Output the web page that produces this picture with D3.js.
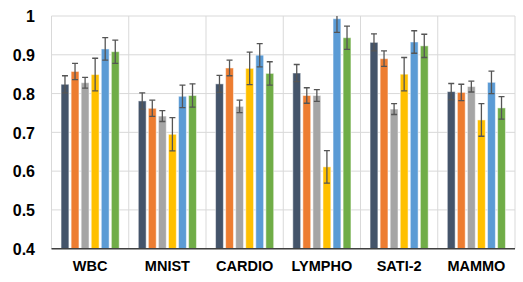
<!DOCTYPE html>
<html><head><meta charset="utf-8">
<script src="https://cdn.jsdelivr.net/npm/d3@7"></script>
<style>body{margin:0;background:#fff}svg{display:block}</style>
</head><body>
<svg id="c" width="523" height="282"></svg>
<script>
const categories = ["WBC","MNIST","CARDIO","LYMPHO","SATI-2","MAMMO"];
const seriesNames = ["S1","S2","S3","S4","S5","S6"];
const colors = ["#44546A","#ED7D31","#A5A5A5","#FFC000","#5B9BD5","#70AD47"];
const values = [
  [0.824,0.857,0.828,0.849,0.915,0.908],
  [0.781,0.762,0.742,0.695,0.793,0.795],
  [0.825,0.866,0.767,0.865,0.899,0.852],
  [0.853,0.795,0.795,0.611,0.993,0.944],
  [0.932,0.890,0.760,0.850,0.933,0.923],
  [0.805,0.803,0.818,0.732,0.829,0.763]
];
const errors = [
  [0.022,0.021,0.014,0.042,0.029,0.030],
  [0.021,0.021,0.014,0.043,0.029,0.030],
  [0.022,0.020,0.016,0.042,0.030,0.030],
  [0.022,0.020,0.015,0.042,0.035,0.030],
  [0.022,0.020,0.014,0.043,0.029,0.030],
  [0.021,0.021,0.014,0.042,0.029,0.029]
];
const yTicks = [0.4,0.5,0.6,0.7,0.8,0.9,1];

const svg = d3.select("#c");
const L = 51.5, R = 515, T = 16, B = 248.7;
const x = d3.scaleBand().domain(categories).range([L,R]).padding(0);
const xs = d3.scaleBand().domain(seriesNames).range([0,x.bandwidth()]).paddingInner(0.22).paddingOuter(0.95);
const y = d3.scaleLinear().domain([0.4,1]).range([B,T]);

svg.append("defs").append("clipPath").attr("id","clip")
  .append("rect").attr("x",L).attr("y",T).attr("width",R-L).attr("height",B-T);

// grid
svg.append("g").selectAll("line").data(yTicks).join("line")
  .attr("x1",L).attr("x2",R).attr("y1",d=>y(d)).attr("y2",d=>y(d))
  .attr("stroke","#D9D9D9").attr("stroke-width",1);
const bounds = categories.map(c=>x(c)).concat([R]);
svg.append("g").selectAll("line").data(bounds).join("line")
  .attr("x1",d=>d).attr("x2",d=>d).attr("y1",T).attr("y2",B)
  .attr("stroke","#D9D9D9").attr("stroke-width",1);

// bars
const g = svg.append("g").attr("clip-path","url(#clip)");
categories.forEach((c,i)=>{
  const gg = g.append("g").attr("transform",`translate(${x(c)},0)`);
  seriesNames.forEach((s,j)=>{
    const v = values[i][j], e = errors[i][j];
    const bx = xs(s), bw = xs.bandwidth();
    gg.append("rect").attr("x",bx).attr("y",y(v)).attr("width",bw).attr("height",y(0.4)-y(v))
      .attr("fill",colors[j]).attr("stroke","#fff").attr("stroke-opacity",0.5).attr("stroke-width",1);
    const cx = bx + bw/2;
    const ec = "#555";
    gg.append("line").attr("x1",cx).attr("x2",cx).attr("y1",y(v+e)).attr("y2",y(v-e)).attr("stroke",ec).attr("stroke-width",1.3);
    [v+e, v-e].forEach(t=>{
      gg.append("line").attr("x1",cx-3).attr("x2",cx+3).attr("y1",y(t)).attr("y2",y(t)).attr("stroke",ec).attr("stroke-width",1.3);
    });
  });
});

// bottom axis line
svg.append("line").attr("x1",L).attr("x2",R).attr("y1",B).attr("y2",B).attr("stroke","#404040").attr("stroke-width",1.5);

// y labels
const yAxis = d3.axisLeft(y).tickValues(yTicks).tickSize(0).tickPadding(0).tickFormat(d=>d3.format("")(d));
const ya = svg.append("g").attr("transform",`translate(35,0)`).call(yAxis);
ya.select(".domain").remove();
ya.selectAll("text").attr("font-family","Liberation Sans, Arial, sans-serif").attr("font-size","16px")
  .attr("font-weight","bold").attr("fill","#000").attr("dy","0.36em");

// x labels
const xAxis = d3.axisBottom(x).tickSize(0).tickPadding(0);
const xa = svg.append("g").attr("transform",`translate(0,${B+22.5})`).call(xAxis);
xa.select(".domain").remove();
xa.selectAll("text").attr("font-family","Liberation Sans, Arial, sans-serif").attr("font-size","14.5px")
  .attr("font-weight","bold").attr("fill","#000").attr("dy","0");
</script>
</body></html>
